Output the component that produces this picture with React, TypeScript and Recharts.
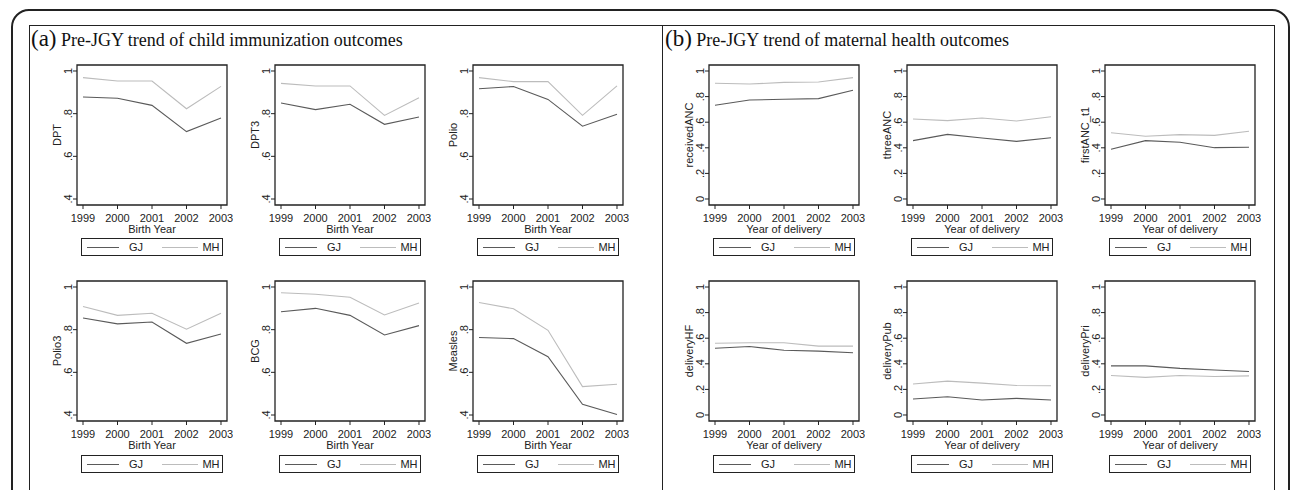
import { Fragment } from 'react'
import { Legend, Line, LineChart, ReferenceArea, XAxis, YAxis } from 'recharts'

const years = [1999, 2000, 2001, 2002, 2003]
const childTicks = [0.4, 0.6, 0.8, 1]
const maternalTicks = [0, 0.2, 0.4, 0.6, 0.8, 1]

// (a) child immunization
const dptGJ = [0.878, 0.872, 0.839, 0.716, 0.78]
const dptMH = [0.969, 0.953, 0.953, 0.823, 0.928]
const dpt3GJ = [0.85, 0.819, 0.844, 0.75, 0.784]
const dpt3MH = [0.942, 0.93, 0.93, 0.792, 0.875]
const polioGJ = [0.917, 0.927, 0.867, 0.741, 0.797]
const polioMH = [0.969, 0.95, 0.95, 0.792, 0.93]
const polio3GJ = [0.855, 0.827, 0.836, 0.736, 0.78]
const polio3MH = [0.909, 0.867, 0.877, 0.802, 0.877]
const bcgGJ = [0.884, 0.9, 0.867, 0.775, 0.819]
const bcgMH = [0.973, 0.966, 0.952, 0.869, 0.925]
const measlesGJ = [0.763, 0.758, 0.673, 0.45, 0.402]
const measlesMH = [0.927, 0.898, 0.797, 0.533, 0.544]

// (b) maternal health
const receivedGJ = [0.732, 0.773, 0.779, 0.784, 0.849]
const receivedMH = [0.904, 0.898, 0.911, 0.914, 0.948]
const threeGJ = [0.456, 0.505, 0.477, 0.45, 0.479]
const threeMH = [0.625, 0.612, 0.633, 0.609, 0.643]
const firstGJ = [0.388, 0.456, 0.443, 0.401, 0.404]
const firstMH = [0.518, 0.49, 0.503, 0.497, 0.529]
const hfGJ = [0.522, 0.535, 0.506, 0.499, 0.486]
const hfMH = [0.561, 0.564, 0.564, 0.538, 0.538]
const pubGJ = [0.125, 0.143, 0.117, 0.13, 0.117]
const pubMH = [0.242, 0.265, 0.249, 0.231, 0.229]
const priGJ = [0.384, 0.384, 0.364, 0.351, 0.34]
const priMH = [0.309, 0.294, 0.309, 0.301, 0.306]

const childPanels = [
  { name: 'DPT', gj: dptGJ, mh: dptMH },
  { name: 'DPT3', gj: dpt3GJ, mh: dpt3MH },
  { name: 'Polio', gj: polioGJ, mh: polioMH },
  { name: 'Polio3', gj: polio3GJ, mh: polio3MH },
  { name: 'BCG', gj: bcgGJ, mh: bcgMH },
  { name: 'Measles', gj: measlesGJ, mh: measlesMH },
]
const maternalPanels = [
  { name: 'receivedANC', gj: receivedGJ, mh: receivedMH },
  { name: 'threeANC', gj: threeGJ, mh: threeMH },
  { name: 'firstANC_t1', gj: firstGJ, mh: firstMH },
  { name: 'deliveryHF', gj: hfGJ, mh: hfMH },
  { name: 'deliveryPub', gj: pubGJ, mh: pubMH },
  { name: 'deliveryPri', gj: priGJ, mh: priMH },
]

const SANS = '"Liberation Sans", Arial, sans-serif'
const SERIF = '"Liberation Serif", "Times New Roman", serif'
const INK = '#222'

const BOX_W = 150
const BOX_H = 140
const Y_AXIS_W = 45
const TOP_PAD = 2
const xDomain = [1998.826, 2003.174]
const childDomain = [0.3719, 1.0281]
const maternalDomain = [-0.0469, 1.0469]

const childCols = [77, 275, 473]
const maternalCols = [709, 907, 1105]
const rows = [64.5, 281]

function fmtTick(v: number) {
  if (v === 1) return '1'
  if (v === 0) return '0'
  return '.' + Math.round(v * 10)
}

function YTick(props: any) {
  const { x, y, payload } = props
  const bx = x + 1
  return (
    <text
      x={bx}
      y={y}
      transform={`rotate(-90 ${bx} ${y})`}
      textAnchor="middle"
      fontSize={11}
      fontFamily={SANS}
      fill={INK}
    >
      {fmtTick(payload.value)}
    </text>
  )
}

function YTitle(props: any) {
  const vb = props.viewBox ?? { x: 0, y: TOP_PAD, width: Y_AXIS_W, height: BOX_H }
  const cx = vb.x + vb.width - 16
  const cy = vb.y + vb.height / 2
  return (
    <text
      x={cx}
      y={cy}
      transform={`rotate(-90 ${cx} ${cy})`}
      textAnchor="middle"
      fontSize={11}
      fontFamily={SANS}
      fill={INK}
    >
      {props.text}
    </text>
  )
}

function XTitle(props: any) {
  const vb = props.viewBox ?? { x: Y_AXIS_W, y: TOP_PAD + BOX_H, width: BOX_W, height: 40 }
  return (
    <text
      x={vb.x + vb.width / 2}
      y={vb.y + 27.5}
      textAnchor="middle"
      fontSize={11}
      fontFamily={SANS}
      fill={INK}
    >
      {props.text}
    </text>
  )
}

function LegendBox(props: any) {
  const payload = props.payload ?? []
  return (
    <div
      style={{
        width: 142,
        height: 18,
        border: `1px solid ${INK}`,
        boxSizing: 'border-box',
        position: 'relative',
        fontFamily: SANS,
        fontSize: 11,
        color: INK,
        background: '#fff',
      }}
    >
      {payload.map((entry: any, i: number) => (
        <Fragment key={entry.value}>
          <div
            style={{
              position: 'absolute',
              left: i === 0 ? 5 : 80,
              top: 8,
              width: i === 0 ? 32 : 36,
              borderTop: `1px solid ${entry.color}`,
            }}
          />
          <span
            style={{
              position: 'absolute',
              left: i === 0 ? 37 : 116,
              width: i === 0 ? 34 : 26,
              top: 1,
              textAlign: 'center',
              lineHeight: '14px',
            }}
          >
            {entry.value}
          </span>
        </Fragment>
      ))}
    </div>
  )
}

function SubPlot({
  name,
  gj,
  mh,
  left,
  top,
  ticks,
  yDomain,
  xTitle,
}: {
  name: string
  gj: number[]
  mh: number[]
  left: number
  top: number
  ticks: number[]
  yDomain: number[]
  xTitle: string
}) {
  const data = years.map((year, i) => ({ year, GJ: gj[i], MH: mh[i] }))
  return (
    <div style={{ position: 'absolute', left: left - Y_AXIS_W, top: top - TOP_PAD }}>
      <LineChart
        width={Y_AXIS_W + BOX_W + 6}
        height={200}
        data={data}
        margin={{ top: TOP_PAD, right: 6, bottom: 18, left: 0 }}
      >
        <XAxis
          dataKey="year"
          type="number"
          domain={xDomain}
          ticks={years}
          interval={0}
          allowDataOverflow
          height={40}
          axisLine={false}
          tickLine={{ stroke: INK }}
          tickSize={4}
          tickMargin={5}
          tick={{ fontSize: 11, fontFamily: SANS, fill: INK }}
          label={<XTitle text={xTitle} />}
        />
        <YAxis
          type="number"
          domain={yDomain}
          ticks={ticks}
          interval={0}
          allowDataOverflow
          width={Y_AXIS_W}
          axisLine={false}
          tickLine={{ stroke: INK }}
          tickSize={4}
          tickMargin={2}
          tick={<YTick />}
          label={<YTitle text={name} />}
        />
        <ReferenceArea
          x1={xDomain[0]}
          x2={xDomain[1]}
          y1={yDomain[0]}
          y2={yDomain[1]}
          fill="none"
          fillOpacity={0}
          stroke={INK}
          strokeWidth={1.3}
        />
        <Line dataKey="GJ" stroke="#5a5a5a" strokeWidth={1.1} dot={false} isAnimationActive={false} />
        <Line dataKey="MH" stroke="#bcbcbc" strokeWidth={1.1} dot={false} isAnimationActive={false} />
        <Legend
          layout="horizontal"
          verticalAlign="middle"
          align="center"
          wrapperStyle={{ top: TOP_PAD + BOX_H + 33.5, left: Y_AXIS_W + 4, width: 142, height: 18 }}
          content={<LegendBox />}
        />
      </LineChart>
    </div>
  )
}

function PanelTitle({ letter, text, left }: { letter: string; text: string; left: number }) {
  return (
    <div
      style={{
        position: 'absolute',
        left,
        top: 28,
        fontFamily: SERIF,
        fontSize: 18,
        lineHeight: '22px',
        color: '#111',
        whiteSpace: 'nowrap',
      }}
    >
      <span style={{ fontSize: 23 }}>{letter}</span> {text}
    </div>
  )
}

export default function App() {
  return (
    <div
      style={{
        position: 'absolute',
        left: 0,
        top: 0,
        width: 1292,
        height: 490,
        overflow: 'hidden',
        background: '#fff',
      }}
    >
      <div
        style={{
          position: 'absolute',
          left: 11,
          top: 9,
          width: 1279,
          height: 620,
          border: `2px solid ${INK}`,
          borderRadius: 18,
          boxSizing: 'border-box',
        }}
      />
      <div
        style={{
          position: 'absolute',
          left: 29,
          top: 25,
          width: 634,
          height: 600,
          border: `1.5px solid ${INK}`,
          boxSizing: 'border-box',
        }}
      />
      <div
        style={{
          position: 'absolute',
          left: 661.5,
          top: 25,
          width: 613,
          height: 600,
          border: `1.5px solid ${INK}`,
          boxSizing: 'border-box',
        }}
      />
      <PanelTitle letter="(a)" text="Pre-JGY trend of child immunization outcomes" left={31} />
      <PanelTitle letter="(b)" text="Pre-JGY trend of maternal health outcomes" left={665} />
      {childPanels.map((p, i) => (
        <SubPlot
          key={p.name}
          name={p.name}
          gj={p.gj}
          mh={p.mh}
          left={childCols[i % 3]}
          top={rows[Math.floor(i / 3)]}
          ticks={childTicks}
          yDomain={childDomain}
          xTitle="Birth Year"
        />
      ))}
      {maternalPanels.map((p, i) => (
        <SubPlot
          key={p.name}
          name={p.name}
          gj={p.gj}
          mh={p.mh}
          left={maternalCols[i % 3]}
          top={rows[Math.floor(i / 3)]}
          ticks={maternalTicks}
          yDomain={maternalDomain}
          xTitle="Year of delivery"
        />
      ))}
    </div>
  )
}
